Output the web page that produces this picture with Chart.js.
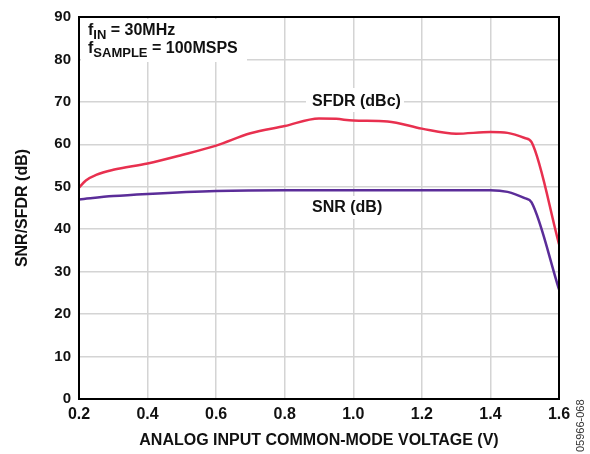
<!DOCTYPE html>
<html>
<head>
<meta charset="utf-8">
<script src="https://cdn.jsdelivr.net/npm/chart.js@4/dist/chart.umd.min.js"></script>
<style>
  html, body { margin: 0; padding: 0; background: #fff; }
  #wrap { width: 590px; height: 454px; position: relative; }
</style>
</head>
<body>
<div id="wrap"><canvas id="chart"></canvas></div>
<script>
// values
const sfdrVolts = [0.2, 0.22, 0.25, 0.3, 0.4, 0.5, 0.6, 0.7, 0.8, 0.9, 0.95, 1.0, 1.1, 1.2, 1.3, 1.4, 1.45, 1.5, 1.52, 1.6];
const sfdrDb    = [49.8, 51.5, 52.8, 54.0, 55.5, 57.5, 59.7, 62.6, 64.3, 66.1, 66.0, 65.6, 65.4, 63.7, 62.5, 62.9, 62.7, 61.5, 60.5, 36.5];
const snrVolts  = [0.2, 0.3, 0.4, 0.6, 0.8, 1.0, 1.2, 1.4, 1.45, 1.5, 1.52, 1.6];
const snrDb     = [47.0, 47.8, 48.3, 49.0, 49.2, 49.2, 49.2, 49.2, 48.8, 47.3, 46.3, 25.8];
const xTicks = [0.2, 0.4, 0.6, 0.8, 1.0, 1.2, 1.4, 1.6];
const yTicks = [0, 10, 20, 30, 40, 50, 60, 70, 80, 90];

const fam = '"Liberation Sans", Arial, sans-serif';
const font = 'bold 16px ' + fam;

const toPoints = (xs, ys) => xs.map((x, i) => ({ x: x, y: ys[i] }));

// labels with a white box that breaks the grid
const notes = {
  id: 'notes',
  beforeDatasetsDraw(chart) {
    const ctx = chart.ctx;
    const a = chart.chartArea;
    ctx.save();
    ctx.textBaseline = 'alphabetic';
    ctx.fillStyle = '#fff';
    ctx.fillRect(a.left + 2, a.top + 2, 247 - a.left - 2, 62 - a.top - 2);
    ctx.fillRect(306, 88, 98, 24);
    ctx.fillRect(306, 196, 80, 23);

    ctx.fillStyle = '#111';
    const sub = (x, y, main, s, rest) => {
      ctx.font = font;
      ctx.fillText(main, x, y);
      let w = ctx.measureText(main).width;
      ctx.font = 'bold 13px ' + fam;
      ctx.fillText(s, x + w, y + 4);
      w += ctx.measureText(s).width;
      ctx.font = font;
      ctx.fillText(rest, x + w, y);
    };
    sub(88, 35, 'f', 'IN', ' = 30MHz');
    sub(88, 53, 'f', 'SAMPLE', ' = 100MSPS');
    ctx.font = font;
    ctx.fillText('SFDR (dBc)', 312, 106);
    ctx.fillText('SNR (dB)', 312, 212);
    ctx.restore();
  },
  afterDraw(chart) {
    const ctx = chart.ctx;
    const a = chart.chartArea;
    ctx.save();
    ctx.strokeStyle = '#000';
    ctx.lineWidth = 2;
    ctx.strokeRect(a.left, a.top, a.right - a.left, a.bottom - a.top);
    ctx.translate(584, 452);
    ctx.rotate(-Math.PI / 2);
    ctx.font = '11px ' + fam;
    ctx.fillStyle = '#333';
    ctx.fillText('05966-068', 0, 0);
    ctx.restore();
  }
};

new Chart(document.getElementById('chart'), {
  type: 'line',
  data: {
    datasets: [{
      label: 'SFDR (dBc)',
      data: toPoints(sfdrVolts, sfdrDb),
      borderColor: '#e8304f',
      borderWidth: 2.5,
      pointRadius: 0,
      cubicInterpolationMode: 'monotone'
    }, {
      label: 'SNR (dB)',
      data: toPoints(snrVolts, snrDb),
      borderColor: '#5b2d99',
      borderWidth: 2.5,
      pointRadius: 0,
      cubicInterpolationMode: 'monotone'
    }]
  },
  options: {
    responsive: true,
    maintainAspectRatio: false,
    animation: false,
    layout: { padding: { top: 15, right: 31, left: 0, bottom: 0 } },
    plugins: {
      legend: { display: false },
      tooltip: { enabled: false }
    },
    scales: {
      x: {
        type: 'linear',
        min: 0.2,
        max: 1.6,
        afterBuildTicks: s => { s.ticks = xTicks.map(v => ({ value: v })); },
        afterFit: s => { s.height = 55; },
        grid: { color: '#d4d4d4', lineWidth: 1.5, drawTicks: false },
        border: { display: false },
        ticks: {
          color: '#111',
          font: { family: fam, size: 16, weight: 'bold' },
          padding: 6,
          maxRotation: 0,
          callback: v => v.toFixed(1)
        },
        title: {
          display: true,
          text: 'ANALOG INPUT COMMON-MODE VOLTAGE (V)',
          color: '#111',
          font: { family: fam, size: 16, weight: 'bold' },
          padding: { top: 8 }
        }
      },
      y: {
        min: 0,
        max: 90,
        afterBuildTicks: s => { s.ticks = yTicks.map(v => ({ value: v })); },
        afterFit: s => { s.width = 79; },
        grid: { color: '#d4d4d4', lineWidth: 1.5, drawTicks: false },
        border: { display: false },
        ticks: {
          color: '#111',
          font: { family: fam, size: 15, weight: 'bold' },
          padding: 8
        },
        title: {
          display: true,
          text: 'SNR/SFDR (dB)',
          color: '#111',
          font: { family: fam, size: 16, weight: 'bold' },
          padding: { bottom: 0, top: 13 }
        }
      }
    }
  },
  plugins: [notes]
});
</script>
</body>
</html>
